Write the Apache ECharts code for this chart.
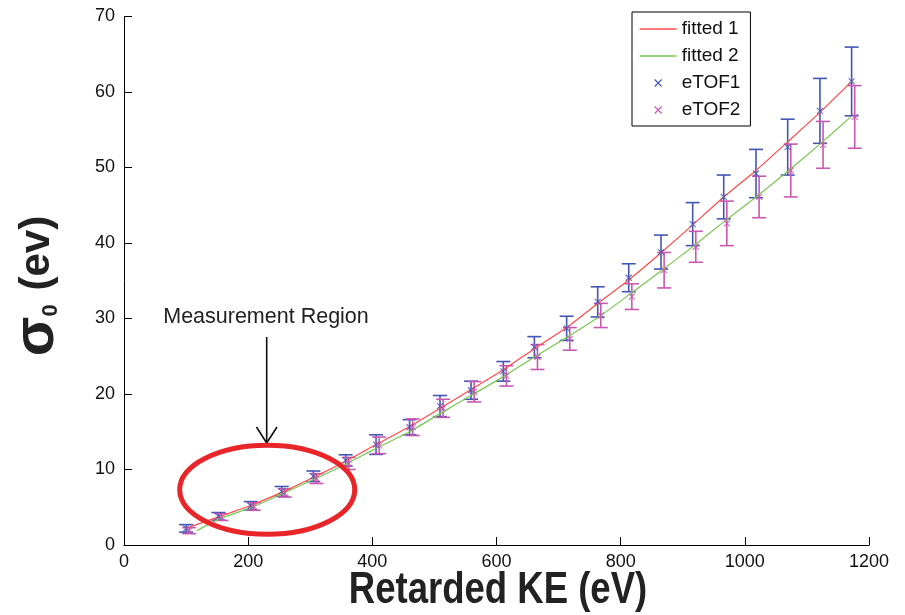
<!DOCTYPE html>
<html>
<head>
<meta charset="utf-8">
<script src="https://cdn.jsdelivr.net/npm/echarts@6/dist/echarts.min.js"></script>
<style>
  html, body { margin: 0; padding: 0; background: #fff; }
  #chart { width: 905px; height: 615px; }
</style>
</head>
<body>
<div id="chart"></div>
<script>
// eTOF1 measured points (KE, sigma, error)
var tof1X = [100, 152, 204, 254, 305, 357, 406, 460, 509, 559, 611, 661, 713, 763, 813, 865, 916, 966, 1018, 1069, 1121, 1172];
var tof1Y = [2.2, 3.8, 5.2, 7.1, 9.1, 11.2, 13.3, 15.6, 18.4, 20.5, 23.0, 26.2, 28.7, 32.2, 35.4, 38.8, 42.5, 46.1, 49.2, 52.7, 57.5, 61.4];
var tof1Err = [0.5, 0.5, 0.55, 0.65, 0.7, 0.75, 1.3, 1.0, 1.4, 1.2, 1.3, 1.4, 1.6, 2.0, 1.85, 2.25, 2.85, 2.9, 3.2, 3.7, 4.3, 4.55];

// eTOF2 measured points
var tof2X = [105, 157, 209, 259, 310, 362, 411, 465, 514, 564, 616, 666, 718, 768, 818, 870, 921, 971, 1023, 1074, 1126, 1177];
var tof2Y = [1.9, 3.7, 5.1, 6.9, 8.8, 10.8, 13.2, 15.6, 18.1, 20.3, 22.4, 24.9, 27.3, 30.4, 32.9, 36.4, 39.5, 42.6, 46.1, 49.6, 53.0, 56.7];
var tof2Err = [0.4, 0.45, 0.5, 0.55, 0.65, 0.8, 1.1, 1.1, 1.2, 1.35, 1.35, 1.65, 1.5, 1.6, 1.7, 2.35, 2.05, 2.95, 2.75, 3.5, 3.1, 4.15];

// fitted curves
var fit1X = [106, 155, 206, 255, 306, 357, 406, 460, 509, 559, 611, 661, 713, 763, 813, 865, 916, 966, 1018, 1069, 1121, 1172];
var fit1Y = [2.4, 3.8, 5.3, 7.0, 9.0, 11.1, 13.3, 15.7, 18.1, 20.6, 23.2, 26.0, 28.8, 32.0, 35.1, 38.7, 42.4, 46.1, 49.6, 53.4, 57.3, 61.4];
var fit2X = [117, 155, 206, 255, 306, 357, 406, 460, 509, 559, 611, 661, 713, 763, 813, 865, 916, 966, 1018, 1069, 1121, 1172];
var fit2Y = [1.9, 3.5, 5.0, 6.8, 8.7, 10.7, 12.8, 15.0, 17.4, 19.8, 22.3, 24.9, 27.5, 30.1, 33.1, 36.3, 39.5, 42.8, 46.1, 49.5, 53.1, 56.8];

var xTicks = [0, 200, 400, 600, 800, 1000, 1200];
var yTicks = [0, 10, 20, 30, 40, 50, 60, 70];

var BLUE = '#4356b4';
var MAGENTA = '#c858b0';
var RED = '#ff4a4a';
var GREEN = '#78c850';
var FONT = "'Liberation Sans', Arial, Helvetica, sans-serif";
var CROSS = 'path://M-5,-5M15,15M0,0L10,10M10,0L0,10';
var DASH = 'path://M0,5L37,5M0,0M37,10';

function zip(xs, ys) {
  return xs.map(function (x, i) { return [x, ys[i]]; });
}
function zip3(xs, ys, es) {
  return xs.map(function (x, i) { return [x, ys[i], es[i]]; });
}

// vertical bar with caps at y-e and y+e
function errorBars(color) {
  return function (params, api) {
    var x = api.value(0), y = api.value(1), e = api.value(2);
    var top = api.coord([x, y + e]);
    var bot = api.coord([x, y - e]);
    var hw = 7;
    var st = { stroke: color, lineWidth: 1.6 };
    return {
      type: 'group',
      children: [
        { type: 'line', shape: { x1: top[0], y1: top[1], x2: bot[0], y2: bot[1] }, style: st },
        { type: 'line', shape: { x1: top[0] - hw, y1: top[1], x2: top[0] + hw, y2: top[1] }, style: st },
        { type: 'line', shape: { x1: bot[0] - hw, y1: bot[1], x2: bot[0] + hw, y2: bot[1] }, style: st }
      ]
    };
  };
}

var chart = echarts.init(document.getElementById('chart'));

var option = {
  backgroundColor: '#fff',
  animation: false,
  textStyle: { fontFamily: FONT },
  grid: { left: 124, right: 36, top: 16.5, bottom: 70, containLabel: false, outerBoundsMode: 'none' },
  legend: {
    orient: 'vertical',
    left: 632,
    top: 12,
    padding: [7, 10, 6, 7],
    itemWidth: 37,
    itemHeight: 14,
    itemGap: 7,
    itemTextGap: 4,
    borderColor: '#000',
    borderWidth: 1,
    backgroundColor: '#fff',
    textStyle: { fontFamily: FONT, fontSize: 19, color: '#111', lineHeight: 20 },
    data: [
      { name: 'fitted 1', icon: DASH, itemStyle: { color: 'rgba(0,0,0,0)', borderColor: RED, borderWidth: 1.3 } },
      { name: 'fitted 2', icon: DASH, itemStyle: { color: 'rgba(0,0,0,0)', borderColor: GREEN, borderWidth: 1.3 } },
      { name: 'eTOF1', icon: CROSS, itemStyle: { color: 'rgba(0,0,0,0)', borderColor: BLUE, borderWidth: 1.1 } },
      { name: 'eTOF2', icon: CROSS, itemStyle: { color: 'rgba(0,0,0,0)', borderColor: MAGENTA, borderWidth: 1.1 } }
    ]
  },
  xAxis: {
    type: 'value',
    min: 0,
    max: 1200,
    interval: 200,
    axisLine: { lineStyle: { color: '#000', width: 1 } },
    axisTick: { inside: true, length: 8, lineStyle: { color: '#000' } },
    axisLabel: { fontSize: 18, color: '#111', margin: 8, fontFamily: FONT,
      formatter: function (v) { return xTicks.indexOf(v) >= 0 ? String(v) : ''; } },
    splitLine: { show: false }
  },
  yAxis: {
    type: 'value',
    min: 0,
    max: 70,
    interval: 10,
    axisLine: { show: true, lineStyle: { color: '#000', width: 1 } },
    axisTick: { show: true, inside: true, length: 8, lineStyle: { color: '#000' } },
    axisLabel: { fontSize: 18, color: '#111', margin: 9, fontFamily: FONT,
      formatter: function (v) { return yTicks.indexOf(v) >= 0 ? String(v) : ''; } },
    splitLine: { show: false }
  },
  series: [
    {
      name: 'fitted 1', type: 'line', data: zip(fit1X, fit1Y), symbol: 'none',
      smooth: 0.2, lineStyle: { color: RED, width: 1.2 }, itemStyle: { color: RED }, z: 3
    },
    {
      name: 'fitted 2', type: 'line', data: zip(fit2X, fit2Y), symbol: 'none',
      smooth: 0.2, lineStyle: { color: GREEN, width: 1.2 }, itemStyle: { color: GREEN }, z: 3
    },
    {
      name: 'eTOF1', type: 'custom', data: zip3(tof1X, tof1Y, tof1Err),
      renderItem: errorBars(BLUE), itemStyle: { color: BLUE }, z: 2
    },
    {
      name: 'eTOF2', type: 'custom', data: zip3(tof2X, tof2Y, tof2Err),
      renderItem: errorBars(MAGENTA), itemStyle: { color: MAGENTA }, z: 2
    },
    {
      name: 'eTOF1', type: 'scatter', data: zip(tof1X, tof1Y), symbol: CROSS, symbolSize: 12,
      itemStyle: { color: 'rgba(0,0,0,0)', borderColor: BLUE, borderWidth: 1.2 }, z: 4
    },
    {
      name: 'eTOF2', type: 'scatter', data: zip(tof2X, tof2Y), symbol: CROSS, symbolSize: 12,
      itemStyle: { color: 'rgba(0,0,0,0)', borderColor: MAGENTA, borderWidth: 1.2 }, z: 4
    }
  ],
  graphic: [
    {
      // y axis title, rotated
      type: 'text', x: 37, y: 286, rotation: Math.PI / 2, z: 10,
      style: {
        text: '{s|σ}{sub|0}{t| (ev)}',
        align: 'center', verticalAlign: 'middle',
        fill: '#222',
        rich: {
          s: { fontFamily: FONT, fontWeight: 'bold', fontSize: 58, fill: '#222', lineHeight: 50 },
          sub: { fontFamily: FONT, fontWeight: 'bold', fontSize: 22, fill: '#222', lineHeight: 22, verticalAlign: 'bottom', padding: [0, 2, 0, 0] },
          t: { fontFamily: FONT, fontWeight: 'bold', fontSize: 42, fill: '#222', lineHeight: 50 }
        }
      }
    },
    {
      // x axis title, squeezed like the condensed original
      type: 'text', x: 498, y: 591, scaleX: 0.83, z: 10,
      style: { text: 'Retarded KE (eV)', font: "bold 44px " + FONT, fill: '#222', align: 'center', verticalAlign: 'middle' }
    },
    {
      type: 'text', x: 266, y: 317, z: 10,
      style: { text: 'Measurement Region', font: "21.5px " + FONT, fill: '#222', align: 'center', verticalAlign: 'middle' }
    },
    {
      type: 'line', z: 10, shape: { x1: 266.7, y1: 337, x2: 266.7, y2: 443 },
      style: { stroke: '#111', lineWidth: 1.6 }
    },
    {
      type: 'polyline', z: 10, shape: { points: [[256.5, 427], [266.7, 443], [277, 427]] },
      style: { stroke: '#111', lineWidth: 1.6, fill: null }
    },
    {
      type: 'ellipse', z: 10, shape: { cx: 267.2, cy: 489.7, rx: 87.5, ry: 44.5 },
      style: { stroke: '#e8262a', lineWidth: 5, fill: null }
    }
  ]
};

chart.setOption(option);
</script>
</body>
</html>
